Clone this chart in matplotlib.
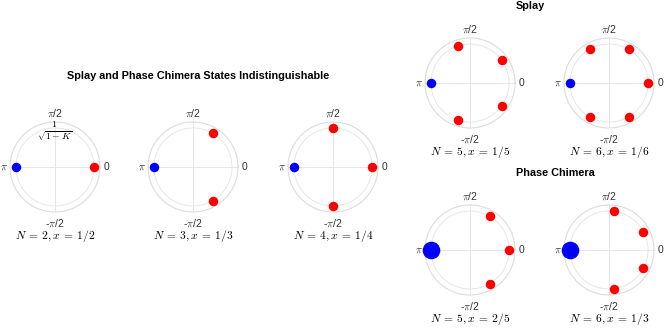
import numpy as np
import matplotlib
matplotlib.use('Agg')
import matplotlib.pyplot as plt

plt.rcParams['font.family'] = ['Liberation Sans', 'DejaVu Sans']
plt.rcParams['mathtext.fontset'] = 'cm'

# panel titles
titles = [r'$N \:=\: 2, x \:=\: 1/2$', r'$N \:=\: 3, x \:=\: 1/3$',
          r'$N \:=\: 4, x \:=\: 1/4$', r'$N \:=\: 5, x \:=\: 1/5$',
          r'$N \:=\: 6, x \:=\: 1/6$', r'$N \:=\: 5, x \:=\: 2/5$',
          r'$N \:=\: 6, x \:=\: 1/3$']
# blue group sits at pi, count = oscillators in that cluster
blue_phase = 180
blue_count = [1, 1, 1, 1, 1, 2, 2]
# red oscillator phases (degrees)
red_phases = [[0],
              [60, -60],
              [90, 0, -90],
              [108, 36, -36, -108],
              [0, 60, 120, -60, -120],
              [60, 0, -60],
              [83, 28, -28, -83]]
tick_angles = [0, 90, 180, 270]
tick_labels = ['0', r'$\pi$/2', r'$\pi$', r'-$\pi$/2']

# panel centres in pixels
centres = [(55, 167), (193, 167), (333, 167),
           (470, 83), (609, 83), (470, 250), (609, 250)]
W, H = 664, 328
R = 45
rmax = 45 / 39
lab_r = [1.31, 1.39, 1.32, 1.44]

fig = plt.figure(figsize=(6.64, 3.28), dpi=100)

for i, (cx, cy) in enumerate(centres):
    ax = fig.add_axes([(cx - R) / W, (H - cy - R) / H, 2 * R / W, 2 * R / H],
                      projection='polar')
    ax.set_ylim(0, rmax)
    ax.set_rticks([1])
    ax.set_yticklabels([])
    ax.set_xticks(np.deg2rad(tick_angles))
    ax.set_xticklabels([])
    ax.grid(True, color='#e6e6e6', linewidth=0.7)
    ax.spines['polar'].set_color('#dcdcdc')
    ax.spines['polar'].set_linewidth(0.8)

    for a, lab, r in zip(tick_angles, tick_labels, lab_r):
        ax.text(np.deg2rad(a), r, lab, ha='center', va='center',
                fontsize=7.5, color='#333333', clip_on=False)

    th = np.deg2rad(red_phases[i])
    ax.scatter(th, np.ones(len(th)), s=34, color='#ff0000', zorder=3, clip_on=False)
    ax.scatter([np.deg2rad(blue_phase)], [1], s=34 * blue_count[i] ** 2,
               color='#0000ff', zorder=3, clip_on=False)

    ax.text(0.5, -0.27, titles[i], transform=ax.transAxes, ha='center',
            va='center', fontsize=8.3)
    if i == 0:
        ax.text(np.pi / 2, 0.9, r'$\genfrac{}{}{0}{}{1}{\sqrt{1-K}}$',
                ha='center', va='center', fontsize=10)

fig.text(198 / W, 1 - 76 / H, 'Splay and Phase Chimera States Indistinguishable',
         ha='center', va='center', fontsize=7.8, fontweight='bold')
fig.text(530 / W, 1 - 6 / H, 'Splay', ha='center', va='center',
         fontsize=7.8, fontweight='bold')
fig.text(555 / W, 1 - 173 / H, 'Phase Chimera', ha='center', va='center',
         fontsize=7.8, fontweight='bold')

fig.savefig('out.png', dpi=100, facecolor='white')
